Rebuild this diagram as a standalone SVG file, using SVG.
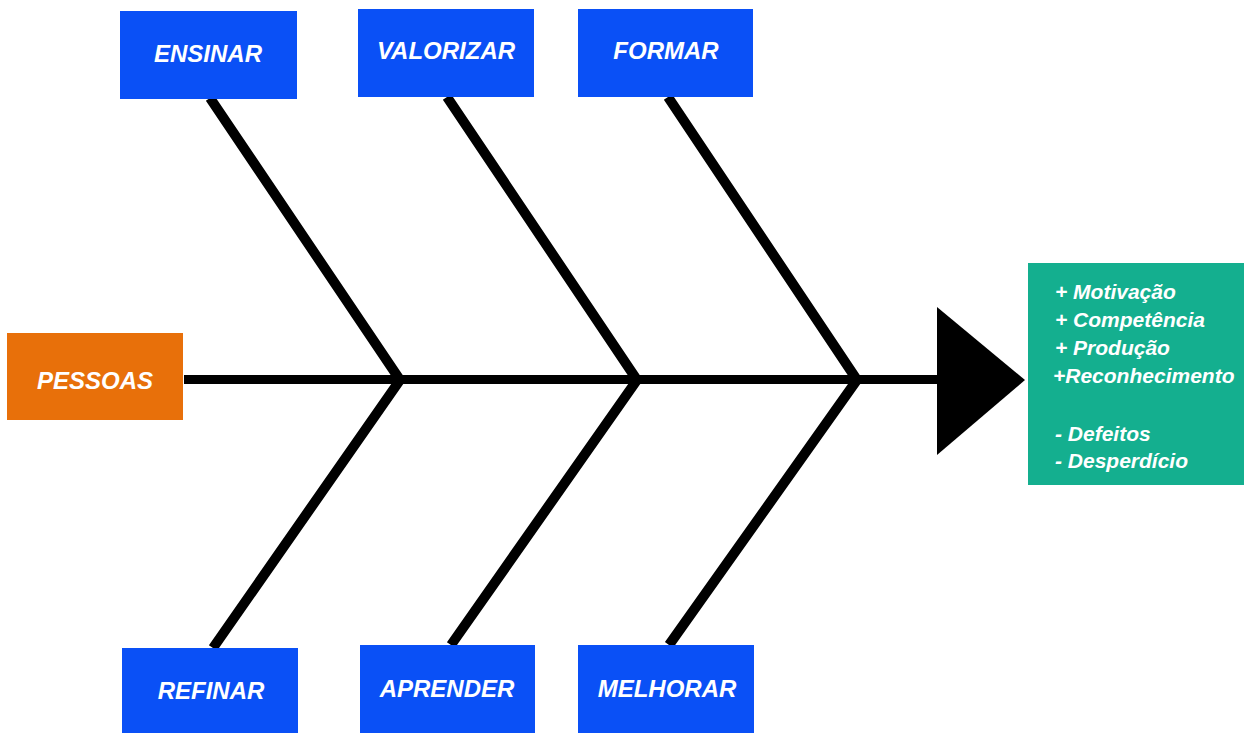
<svg xmlns="http://www.w3.org/2000/svg" width="1246" height="733" viewBox="0 0 1246 733">
  <style>
    .cause { fill: #0a50f6; }
    .label { font-family: "Liberation Sans", Arial, sans-serif; font-weight: bold; font-style: italic; fill: #ffffff; }
    .box-label { font-size: 24px; text-anchor: middle; }
    .effect-label { font-size: 21px; }
    .bone { stroke: #000000; stroke-width: 10; fill: none; stroke-linecap: butt; }
    .spine { stroke: #000000; stroke-width: 9; }
  </style>
  <rect width="1246" height="733" fill="#ffffff"/>

  <!-- spine and ribs -->
  <g id="connectors">
    <line class="spine" x1="184" y1="379.5" x2="940" y2="379.5"/>
    <polyline class="bone" points="210,98 400,380 213,648"/>
    <polyline class="bone" points="447,97 637,380 451,645"/>
    <polyline class="bone" points="668,97 857,380 669,645"/>
    <polygon points="937,307 1025,380 937,455" fill="#000000"/>
  </g>

  <!-- problem head -->
  <g id="pessoas">
    <rect x="7" y="333" width="176" height="87" fill="#e8700a"/>
    <text class="label box-label" x="95" y="389">PESSOAS</text>
  </g>

  <!-- upper causes -->
  <g id="ensinar">
    <rect class="cause" x="120" y="11" width="177" height="88"/>
    <text class="label box-label" x="208" y="62">ENSINAR</text>
  </g>
  <g id="valorizar">
    <rect class="cause" x="358" y="9" width="176" height="88"/>
    <text class="label box-label" x="446" y="59">VALORIZAR</text>
  </g>
  <g id="formar">
    <rect class="cause" x="578" y="9" width="175" height="88"/>
    <text class="label box-label" x="666" y="59">FORMAR</text>
  </g>

  <!-- lower causes -->
  <g id="refinar">
    <rect class="cause" x="122" y="648" width="176" height="90"/>
    <text class="label box-label" x="211" y="699">REFINAR</text>
  </g>
  <g id="aprender">
    <rect class="cause" x="360" y="645" width="175" height="93"/>
    <text class="label box-label" x="447" y="697">APRENDER</text>
  </g>
  <g id="melhorar">
    <rect class="cause" x="578" y="645" width="176" height="93"/>
    <text class="label box-label" x="667" y="697">MELHORAR</text>
  </g>

  <!-- effect -->
  <g id="resultado">
    <rect x="1028" y="263" width="216" height="222" fill="#14af8f"/>
    <text class="label effect-label" x="1055" y="299">+ Motivação</text>
    <text class="label effect-label" x="1055" y="327">+ Competência</text>
    <text class="label effect-label" x="1055" y="355">+ Produção</text>
    <text class="label effect-label" x="1053" y="383">+Reconhecimento</text>
    <text class="label effect-label" x="1055" y="441">- Defeitos</text>
    <text class="label effect-label" x="1055" y="468">- Desperdício</text>
  </g>
</svg>
